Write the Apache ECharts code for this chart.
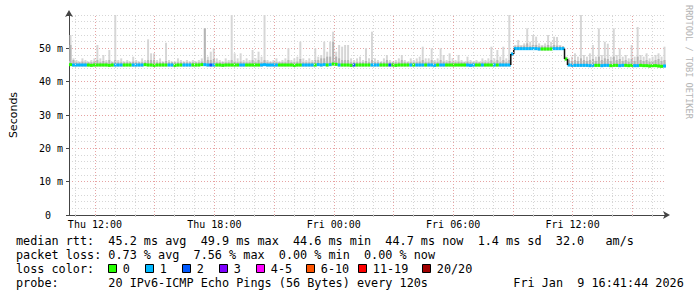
<!DOCTYPE html>
<html><head><meta charset="utf-8">
<script src="https://cdn.jsdelivr.net/npm/echarts@6/dist/echarts.min.js"></script>
<style>html,body{margin:0;padding:0;background:#fff;}#c{width:697px;height:297px;}</style>
</head><body><div id="c"></div>
<script>
// ---- data ----
const startHour = 10 + 41 / 60 + 44 / 3600; // Thu 10:41:44 (hours since Thu 00:00)
const stepHours = 0.15;                      // 9 minutes per sample
const xLabelHours = [12, 18, 24, 30, 36];
const xLabelText = ['Thu 12:00', 'Thu 18:00', 'Fri 00:00', 'Fri 06:00', 'Fri 12:00'];
const yTickValues = [0, 10, 20, 30, 40, 50, 60];

const median = [
45.1,45.0,45.0,45.0,45.0,45.0,45.0,44.9,45.0,45.0,
45.0,45.0,45.0,44.9,45.0,45.0,45.0,45.0,45.0,45.0,
45.0,45.0,45.0,45.0,45.0,45.1,45.0,45.0,44.9,45.0,
45.0,45.0,45.0,45.0,45.0,44.9,45.0,45.0,45.0,45.0,
45.0,45.0,45.0,45.0,45.1,45.1,45.0,45.0,45.0,45.0,
45.0,44.9,45.0,45.0,45.0,45.0,45.0,45.0,45.0,45.0,
45.0,45.0,45.0,45.0,45.0,45.1,45.0,45.0,45.0,45.0,
45.0,45.0,45.0,45.0,45.0,44.9,45.0,45.0,45.0,45.0,
45.0,45.0,45.0,45.1,45.0,45.1,45.0,45.1,45.3,45.2,
45.0,45.0,45.0,45.0,44.9,45.0,45.0,45.0,45.0,45.0,
45.0,45.0,45.0,45.0,45.0,45.0,45.0,45.0,45.0,44.9,
45.0,45.0,45.0,45.0,45.0,45.0,45.0,45.0,45.0,45.0,
45.0,45.0,44.9,45.0,45.0,45.0,45.0,45.0,45.0,45.0,
45.0,45.0,45.0,45.0,44.9,45.0,45.0,45.0,45.0,45.0,
45.0,45.0,45.0,45.0,45.0,45.0,45.0,45.0,48.3,49.9,
49.9,49.9,49.9,49.9,49.9,49.9,49.9,49.8,49.8,49.8,
49.8,49.8,49.9,49.9,49.9,49.9,46.8,45.0,44.9,44.9,
44.9,44.9,44.9,44.9,44.8,44.9,44.9,44.9,44.8,44.9,
44.9,44.8,44.9,44.9,44.8,44.9,44.9,44.8,44.9,44.8,
44.8,44.9,44.8,44.8,44.7,44.8,44.8,44.7,44.6,44.7
];
const loss = [
0,1,1,1,1,1,0,0,0,0,
0,0,0,0,0,1,1,1,0,0,
0,1,1,1,1,0,0,0,0,0,
0,0,0,1,1,0,0,0,1,1,
1,0,0,0,0,1,1,2,1,0,
0,0,0,0,0,0,0,1,1,0,
0,0,0,0,1,1,1,1,1,1,
0,0,0,0,0,0,0,0,1,1,
1,1,0,1,1,1,0,1,0,0,
1,0,0,0,0,2,0,0,0,0,
0,1,1,1,0,0,0,2,0,0,
0,0,0,0,1,0,1,1,1,0,
1,1,1,0,1,1,0,0,0,0,
0,0,0,1,1,1,0,0,1,0,
0,0,1,0,1,1,1,1,1,1,
1,1,1,1,1,1,1,1,0,0,
0,0,1,1,1,1,0,1,1,1,
1,1,1,1,1,1,0,0,1,1,
1,0,0,0,1,1,0,0,0,1,
1,0,0,0,0,0,0,0,0,1
];
const smokeHi = [
54,47,46.5,46,47,46.5,46,46.5,47,51,
47,48,46.5,49.5,46,60.5,46.5,47,46,46.5,
46,47.5,46.5,46,47,46.5,52.7,48.5,48.5,46.5,
47,46,51.7,46.5,46,46,47,46.5,46,46.5,
46,46.5,46,46.5,47,56,47.5,49,50,47,
46.5,46,47,46.5,60,48.5,47,48.5,46.5,47,
46.5,49.5,47,49,47.5,60,46.5,46,46.5,47,
46,46.5,47,50,46.5,47,47.5,52,47,46.5,
47,46.5,50,47.5,48,52,49,52,55,49,
51,50.5,51,51,47,46.5,47,47.5,46.5,50,
47,55,47,46.5,46,47,48,46.5,46,46.5,
47,48,46.5,46,47,46.5,47,47.5,50.5,47,
47,50,46.5,47,50,48,46.5,48.5,47,46.5,
48,46.5,46,47.5,46.5,46,46.5,46,47,46.5,
47,50.5,47,49.5,47.5,50.5,47,60,48.5,51,
52.5,51,51.5,56,52,54,53.5,51.5,51,51.5,
54,52,53.5,53.4,51,50.5,47.5,47,47.5,48.5,
47.5,60,48,47.5,48.5,51,47.5,56,48,52,
51.4,47.5,56,48,50,47.5,48,47,51,47.5,
56.4,48,47.5,48.5,47,47.5,48,48.5,47.5,50.5
];
const smokeMid = [
51,46.5,45.8,45.8,46,45.8,45.8,45.8,46,46.5,
45.8,46.2,45.8,46.5,45.8,46.5,45.8,45.8,45.8,45.8,
45.8,46,45.8,45.8,45.8,45.8,46.5,46.5,46.5,45.8,
45.8,45.8,46.2,45.8,45.8,45.8,45.8,45.8,45.8,45.8,
45.8,45.8,45.8,45.8,46,56,46.5,46.5,46.8,45.8,
45.8,45.8,45.8,45.8,46.5,46,45.8,46,45.8,45.8,
45.8,46.5,45.8,46.5,45.8,46.5,45.8,45.8,45.8,45.8,
45.8,45.8,45.8,46.5,45.8,45.8,46,46.8,45.8,45.8,
45.8,45.8,46.5,46.5,47,47,47.5,47.5,52,47.5,
47,46.5,46.5,46.5,45.8,45.8,45.8,45.8,45.8,46.2,
45.8,46.5,45.8,45.8,45.8,45.8,46.5,45.8,45.8,45.8,
45.8,46.5,45.8,45.8,45.8,45.8,45.8,46,46.5,45.8,
45.8,46.5,45.8,45.8,46.5,46,45.8,46.2,45.8,45.8,
46,45.8,45.8,46,45.8,45.8,45.8,45.8,45.8,45.8,
45.8,46.5,45.8,46.5,45.8,46.5,45.8,46.5,48.8,50.6,
50.8,50.6,50.8,51.5,50.6,51,51,50.6,50.6,50.6,
51,50.6,51,50.8,50.6,50.6,46.8,46.5,46.2,46.5,
46.2,47,46.5,46.2,46.5,46.8,46.2,47.5,46.5,47,
46.8,46.2,47.5,46.5,46.8,46.2,46.5,46,46.8,46.2,
47.5,46.5,46.2,46.5,46,46.2,46.5,46.8,46.2,46.5
];
const lossLabels = ['0', '1', '2', '3', '4-5', '6-10', '11-19', '20/20'];
const lossMax = [0, 1, 2, 3, 5, 10, 19, 20];
const rttStats = ['45.2 ms avg', '49.9 ms max', '44.6 ms min', '44.7 ms now', '1.4 ms sd', '32.0   am/s'];
const lossStats = ['0.73 % avg', '7.56 % max', '0.00 % min', '0.00 % now'];
const probeText = '20 IPv6-ICMP Echo Pings (56 Bytes) every 120s';
const dateText = 'Fri Jan  9 16:41:44 2026';

// ---- styles ----
const lossColors = ['#26ff00', '#00b8ff', '#0059ff', '#7e00ff', '#ff00ff', '#ff5500', '#ff0000', '#a10000'];
const MONO = 'DejaVu Sans Mono';
const nb = s => s.replace(/ /g, '\u00a0');
function lossColor(l) {
  for (let k = 0; k < lossMax.length; k++) if (l <= lossMax[k]) return lossColors[k];
  return lossColors[lossColors.length - 1];
}

const hourly = [];
for (let h = Math.ceil(startHour); h <= startHour + 30; h++) hourly.push(h);

const smokeData = median.map((m, i) => [startHour + (i + 0.5) * stepHours, m, smokeHi[i], smokeMid[i]]);
const medData = median.map((m, i) => [startHour + (i + 0.5) * stepHours, m, loss[i], i > 0 ? median[i - 1] : m]);

function renderSmoke(params, api) {
  const t = api.value(0), m = api.value(1), hi = api.value(2), mid = api.value(3);
  const xa = api.coord([t - stepHours / 2, m])[0];
  const xb = api.coord([t + stepHours / 2, m])[0];
  const yb = api.coord([t, m - 0.4])[1];
  const yBand = api.coord([t, Math.min(hi, m + 1.1)])[1];
  const yHi = api.coord([t, hi])[1];
  const yMid = api.coord([t, mid])[1];
  const w = xb - xa, cx = (xa + xb) / 2;
  return {
    type: 'group',
    children: [
      { type: 'rect', shape: { x: xa, y: yBand, width: w, height: yb - yBand }, style: { fill: '#e4e4e4' } },
      { type: 'rect', shape: { x: cx - w * 0.33, y: yHi, width: w * 0.66, height: yb - yHi }, style: { fill: '#d6d6d6' } },
      { type: 'rect', shape: { x: cx - w * 0.33, y: yMid, width: w * 0.66, height: yb - yMid }, style: { fill: '#b4b4b4' } }
    ]
  };
}
function renderMedian(params, api) {
  const t = api.value(0), m = api.value(1), l = api.value(2), pm = api.value(3);
  const p0 = api.coord([t - stepHours / 2, m]);
  const p1 = api.coord([t + stepHours / 2, m]);
  const children = [
    { type: 'rect', shape: { x: p0[0], y: p0[1] - 1.5, width: p1[0] - p0[0], height: 3 }, style: { fill: lossColor(l) } }
  ];
  if (Math.abs(m - pm) > 1) {
    const q = api.coord([t - stepHours / 2, pm]);
    children.push({ type: 'line', shape: { x1: p0[0], y1: q[1], x2: p0[0], y2: p0[1] }, style: { stroke: '#111', lineWidth: 1.5 } });
  }
  return { type: 'group', children };
}

const chart = echarts.init(document.getElementById('c'), null, { renderer: 'svg', width: 697, height: 297 });

const graphics = [];
const rowY = [241, 255, 269, 283];
const textX = 16;
function addText(txt, x, y, extra) {
  graphics.push(Object.assign({ type: 'text', x, y, silent: true,
    style: { text: nb(txt), fontFamily: MONO, fontSize: 11.8, fill: '#000', align: 'left', verticalAlign: 'middle' } }, extra || {}));
}
addText('median rtt:  ' + rttStats.join('  '), textX, rowY[0]);
addText('packet loss: ' + lossStats.join('  '), textX, rowY[1]);
addText('loss color:', textX, rowY[2]);
const boxX = [108.5, 145.5, 182.5, 219.5, 256.5, 306.5, 358.5, 422.5];
lossLabels.forEach((lab, k) => {
  graphics.push({ type: 'rect', silent: true, shape: { x: boxX[k], y: rowY[2] - 4.5, width: 8, height: 8 },
    style: { fill: lossColors[k], stroke: '#000', lineWidth: 1 } });
  addText(lab, boxX[k] + 14.3, rowY[2]);
});
addText('probe:       ' + probeText, textX, rowY[3]);
addText(dateText, 513.3, rowY[3]);
graphics.push({ type: 'text', x: 688.5, y: 5, rotation: -Math.PI / 2, silent: true,
  style: { text: nb('RRDTOOL / TOBI OETIKER'), fontFamily: MONO, fontSize: 8.6, fill: '#b4b4b4', align: 'left', verticalAlign: 'middle' } });

const majorRed = '#e6a3a3', minorGray = '#d6d6d6';

chart.setOption({
  animation: false,
  backgroundColor: '#ffffff',
  grid: { left: 66, right: 31, top: 15, bottom: 82, containLabel: false },
  xAxis: {
    type: 'value', min: startHour, max: startHour + 30,
    axisLine: { show: true, onZero: false, lineStyle: { color: '#444', width: 1 }, symbol: ['none', 'arrow'], symbolSize: [6, 7], symbolOffset: [0, 4] },
    axisTick: { show: true, customValues: hourly, length: 2, lineStyle: { color: '#c8c8c8' } },
    axisLabel: { customValues: xLabelHours, formatter: v => xLabelText[xLabelHours.indexOf(Math.round(v))] || '',
      fontFamily: MONO, fontSize: 10, color: '#000', margin: 4 },
    splitLine: { show: false }
  },
  yAxis: {
    type: 'value', min: yTickValues[0], max: yTickValues[yTickValues.length - 1], interval: 10,
    name: 'Seconds', nameLocation: 'middle', nameGap: 50, nameRotate: 90,
    nameTextStyle: { fontFamily: 'DejaVu Sans', fontSize: 11, color: '#000' },
    axisLine: { show: true, lineStyle: { color: '#444', width: 1 }, symbol: ['none', 'arrow'], symbolSize: [6, 7], symbolOffset: [0, 5] },
    axisTick: { show: true, length: 3, lineStyle: { color: '#444' } },
    axisLabel: { formatter: v => v === 0 ? '0\u00a0\u00a0' : (v >= 60 ? '' : v + '\u00a0m'), fontFamily: MONO, fontSize: 10, color: '#000', margin: 6 },
    splitLine: { show: true, lineStyle: { color: [majorRed, majorRed, majorRed, majorRed, majorRed, majorRed, minorGray], type: [1, 2], width: 1 } },
    minorTick: { show: false, splitNumber: 5 },
    minorSplitLine: { show: true, lineStyle: { color: minorGray, type: [1, 2], width: 1 } }
  },
  series: [
    { type: 'line', data: [], silent: true,
      markLine: { silent: true, symbol: ['none', 'none'], animation: false, label: { show: false },
        data: hourly.map(h => ({ xAxis: h, lineStyle: { color: h % 3 === 0 ? majorRed : minorGray, type: [1, 2], width: 1 } })) } },
    { type: 'custom', name: 'smoke', silent: true, clip: true, data: smokeData, encode: { x: 0, y: 1 }, renderItem: renderSmoke },
    { type: 'custom', name: 'median rtt', silent: true, clip: true, data: medData, encode: { x: 0, y: 1 }, renderItem: renderMedian }
  ],
  graphic: graphics
});
</script></body></html>
